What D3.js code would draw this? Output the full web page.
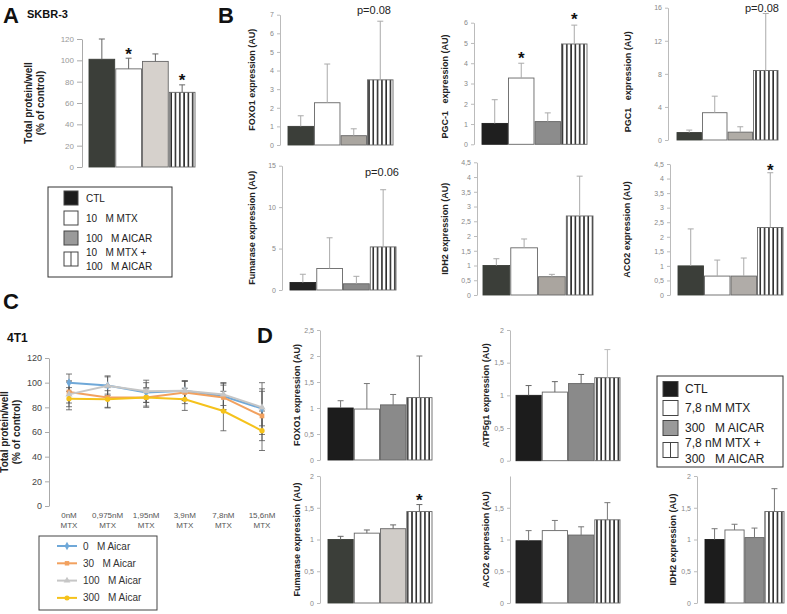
<!DOCTYPE html>
<html><head><meta charset="utf-8">
<script src="https://cdn.jsdelivr.net/npm/d3@7"></script>
<style>body{margin:0;background:#fff} svg{display:block;font-family:"Liberation Sans",Arial,sans-serif} text{white-space:pre}</style>
</head><body><svg id="c" width="787" height="614"></svg>
<script>
// ---------- DATA ----------
const groups = ["CTL", "MTX", "AICAR", "MTX+AICAR"];
const legendA = [["CTL"], ["10   M MTX"], ["100   M AICAR"], ["10   M MTX +", "100   M AICAR"]];
const legendD = [["CTL"], ["7,8 nM MTX"], ["300   M AICAR"], ["7,8 nM MTX +", "300   M AICAR"]];
// A: SKBR-3 total protein
const skbrMean = [101, 92, 99, 70];
const skbrSd = [19, 10, 7, 7];
// B: SKBR-3 expression
const foxo1B = [1.0, 2.27, 0.5, 3.5];
const foxo1BSd = [0.57, 2.08, 0.37, 3.15];
const pgc1aB = [1.03, 3.27, 1.12, 4.95];
const pgc1aBSd = [1.17, 0.73, 0.43, 0.93];
const pgc1bB = [0.9, 3.3, 0.95, 8.4];
const pgc1bBSd = [0.3, 2.0, 0.65, 6.9];
const fumB = [0.9, 2.6, 0.75, 5.2];
const fumBSd = [1.0, 3.7, 0.9, 6.9];
const idh2B = [1.0, 1.6, 0.62, 2.68];
const idh2BSd = [0.23, 0.3, 0.08, 1.35];
const aco2B = [1.0, 0.65, 0.65, 2.32];
const aco2BSd = [1.27, 0.55, 0.62, 1.88];
// C: 4T1 dose response
const doses = ["0nM", "0,975nM", "1,95nM", "3,9nM", "7,8nM", "15,6nM"];
const aicarLabels = ["0   M Aicar", "30   M Aicar", "100   M Aicar", "300   M Aicar"];
const aicar0 = [100, 97.7, 92, 93.5, 89, 79];
const aicar0Sd = [7, 7, 8, 8, 11, 21];
const aicar30 = [92.5, 88, 88, 92, 88, 73];
const aicar30Sd = [9, 8, 7, 9, 10, 20];
const aicar100 = [90.5, 97.5, 93, 93.5, 90.5, 80];
const aicar100Sd = [10, 8, 9, 8, 9, 15];
const aicar300 = [87, 86.5, 88, 86.5, 77, 61];
const aicar300Sd = [9, 7, 8, 9, 16, 16];
// D: 4T1 expression
const foxo1D = [1.0, 0.98, 1.06, 1.2];
const foxo1DSd = [0.14, 0.49, 0.2, 0.8];
const atp5D = [1.0, 1.05, 1.18, 1.27];
const atp5DSd = [0.15, 0.16, 0.14, 0.43];
const fumD = [1.0, 1.1, 1.17, 1.44];
const fumDSd = [0.05, 0.05, 0.06, 0.11];
const aco2D = [0.98, 1.14, 1.07, 1.31];
const aco2DSd = [0.16, 0.16, 0.13, 0.27];
const idh2D = [1.0, 1.15, 1.03, 1.44];
const idh2DSd = [0.17, 0.09, 0.15, 0.36];

// ---------- DRAWING ----------
const svg = d3.select("#c");
const defs = svg.append("defs");
const pat = defs.append("pattern").attr("id", "stripes").attr("patternUnits", "userSpaceOnUse")
  .attr("width", 4.3).attr("height", 10);
pat.append("rect").attr("width", 4.3).attr("height", 10).attr("fill", "#fff");
pat.append("rect").attr("x", 2.8).attr("width", 1.4).attr("height", 10).attr("fill", "#111");

const comma = d => String(d).replace(".", ",");

function barChart(o) {
  const g = svg.append("g");
  const y = d3.scaleLinear().domain([0, o.max]).range([o.y0, o.y1]);
  const x = d3.scaleBand().domain(groups).range([o.b0, o.b1]).paddingInner(o.gap || 0.04);
  const ax = g.append("g").attr("transform", `translate(${o.ax},0)`)
    .call(d3.axisLeft(y).tickValues(o.ticks).tickFormat(o.fmt || comma).tickSize(o.tick || 3).tickSizeOuter(0));
  ax.select(".domain").attr("stroke", o.axisCol || "#bbb");
  ax.selectAll(".tick line").attr("stroke", o.axisCol || "#bbb");
  ax.selectAll(".tick text").attr("fill", o.tickCol || "#888").attr("font-size", o.tickFs || 7)
    .attr("font-family", "Liberation Sans, Arial, sans-serif");
  const fills = [o.c1, "#fff", o.c3, "url(#stripes)"];
  g.selectAll("rect.bar").data(o.means).join("rect").attr("class", "bar")
    .attr("x", (d, i) => x(groups[i])).attr("width", x.bandwidth())
    .attr("y", d => y(d)).attr("height", d => o.y0 - y(d))
    .attr("fill", (d, i) => fills[i]).attr("stroke", (d, i) => i === 0 ? o.c1 : "#666").attr("stroke-width", 0.9);
  const eb = g.selectAll("g.eb").data(o.means).join("g").attr("class", "eb");
  eb.append("line").attr("x1", (d, i) => x(groups[i]) + x.bandwidth() / 2).attr("x2", (d, i) => x(groups[i]) + x.bandwidth() / 2)
    .attr("y1", d => y(d)).attr("y2", (d, i) => y(d + o.sds[i]))
    .attr("stroke", (d, i) => (o.errCols || [])[i] || o.errCol || "#aaa").attr("stroke-width", 1);
  eb.append("line").attr("x1", (d, i) => x(groups[i]) + x.bandwidth() / 2 - 3).attr("x2", (d, i) => x(groups[i]) + x.bandwidth() / 2 + 3)
    .attr("y1", (d, i) => y(d + o.sds[i])).attr("y2", (d, i) => y(d + o.sds[i]))
    .attr("stroke", (d, i) => (o.errCols || [])[i] || o.errCol || "#aaa").attr("stroke-width", 1);
  // y title
  const t = g.append("text").attr("transform", `translate(${o.tx},${(o.y0 + o.y1) / 2 + (o.tdy || 0)}) rotate(-90)`)
    .attr("text-anchor", "middle").attr("font-weight", "bold").attr("font-size", o.tfs || 9).attr("fill", "#222");
  o.title.forEach((s, k) => t.append("tspan").attr("x", 0).attr("dy", k === 0 ? 0 : "1.15em").text(s));
  (o.stars || []).forEach(i => g.append("text").attr("x", x(groups[i]) + x.bandwidth() / 2)
    .attr("y", y(o.means[i] + o.sds[i]) - (o.starGap || 4)).attr("text-anchor", "middle")
    .attr("font-size", 17).attr("font-weight", "bold").attr("fill", "#111").text("*").attr("dy", "0.55em"));
  if (o.p) g.append("text").attr("x", o.p[1]).attr("y", o.p[2]).attr("font-size", 11).attr("fill", "#222").text(o.p[0]);
  return { x, y };
}

function label(txt, x, y, fs) {
  svg.append("text").attr("x", x).attr("y", y).attr("font-size", fs).attr("font-weight", "bold").attr("fill", "#111").text(txt);
}
label("A", 3, 23, 22); label("SKBR-3", 27, 18, 11);
label("B", 218, 23, 22);
label("C", 3, 309, 22); label("4T1", 7, 342, 12);
label("D", 257, 343, 22);

// A
barChart({ ax: 82, y0: 167, y1: 39, max: 120, ticks: [0, 20, 40, 60, 80, 100, 120], fmt: d => d, tick: 5,
  tickFs: 8, tickCol: "#999", axisCol: "#aaa",
  b0: 89, b1: 195, gap: 0.04, means: skbrMean, sds: skbrSd, c1: "#3b3e39", c3: "#d6d1cc", errCol: "#666",
  title: ["Total protein/well", "(% of control)"], tx: 32, tfs: 10, stars: [1, 3], starGap: 8 });

// B row 1
barChart({ ax: 280, y0: 145, y1: 14.7, max: 7, ticks: [0, 1, 2, 3, 4, 5, 6, 7], b0: 288, b1: 393,
  means: foxo1B, sds: foxo1BSd, c1: "#3b3e39", c3: "#aaa6a0", title: ["FOXO1 expression (AU)"], tx: 255,
  p: ["p=0.08", 357, 14] });
barChart({ ax: 474, y0: 144.3, y1: 22.7, max: 6, ticks: [0, 1, 2, 3, 4, 5, 6], b0: 482, b1: 587,
  means: pgc1aB, sds: pgc1aBSd, c1: "#1f1f1f", c3: "#8c8c8c", title: ["PGC-1   expression (AU)"], tx: 448, tdy: 3,
  stars: [1, 3], starGap: 9 });
barChart({ ax: 668, y0: 140, y1: 7.7, max: 16, ticks: [0, 4, 8, 12, 16], b0: 677, b1: 778,
  means: pgc1bB, sds: pgc1bBSd, c1: "#3b3e39", c3: "#b0aca6", title: ["PGC1   expression (AU)"], tx: 631, tdy: 8,
  p: ["p=0.08", 745, 12] });
// B row 2
barChart({ ax: 282, y0: 290, y1: 165.7, max: 15, ticks: [0, 5, 10, 15], b0: 290, b1: 396,
  means: fumB, sds: fumBSd, c1: "#222", c3: "#8a8a8a", title: ["Fumarase expression (AU)"], tx: 255,
  p: ["p=0.06", 365, 176] });
barChart({ ax: 477, y0: 295, y1: 162.3, max: 4.5, ticks: [0, 0.5, 1, 1.5, 2, 2.5, 3, 3.5, 4, 4.5], b0: 483, b1: 593,
  means: idh2B, sds: idh2BSd, c1: "#3b3e39", c3: "#aaa59f", title: ["IDH2 expression (AU)"], tx: 448 });
barChart({ ax: 670, y0: 295, y1: 164, max: 4.5, ticks: [0, 0.5, 1, 1.5, 2, 2.5, 3, 3.5, 4, 4.5], b0: 678, b1: 783,
  means: aco2B, sds: aco2BSd, c1: "#3b3e39", c3: "#b0aca8", title: ["ACO2 expression (AU)"], tx: 630,
  stars: [3], starGap: 6 });

// D
barChart({ ax: 320, y0: 460, y1: 330, max: 2.5, ticks: [0, 0.5, 1, 1.5, 2, 2.5], b0: 328, b1: 432,
  means: foxo1D, sds: foxo1DSd, c1: "#1c1c1c", c3: "#8a8a8a", errCol: "#777", title: ["FOXO1 expression (AU)"], tx: 300 });
barChart({ ax: 510, y0: 460.7, y1: 330, max: 2, ticks: [0, 0.5, 1, 1.5, 2], b0: 516, b1: 620,
  means: atp5D, sds: atp5DSd, c1: "#1c1c1c", c3: "#8a8a8a", errCols: ["#666", "#666", "#666", "#bbb"],
  title: ["ATP5g1 expression (AU)"], tx: 489 });
barChart({ ax: 320, y0: 603, y1: 476, max: 2, ticks: [0, 0.5, 1, 1.5, 2], b0: 328, b1: 432,
  means: fumD, sds: fumDSd, c1: "#3b3e39", c3: "#d0ccc8", errCol: "#666", title: ["Fumarase expression (AU)"], tx: 300,
  stars: [3], starGap: 8 });
barChart({ ax: 510, y0: 603, y1: 476, max: 2, ticks: [0, 0.5, 1, 1.5], b0: 516, b1: 620,
  means: aco2D, sds: aco2DSd, c1: "#222", c3: "#8a8a8a", errCol: "#777", title: ["ACO2 expression (AU)"], tx: 489 });
barChart({ ax: 697, y0: 603, y1: 476, max: 2, ticks: [0, 0.5, 1, 1.5, 2], b0: 705, b1: 784,
  means: idh2D, sds: idh2DSd, c1: "#1c1c1c", c3: "#8a8a8a", errCol: "#777", title: ["IDH2 expression (AU)"], tx: 676 });

// legends for bar charts
function barLegend(rows, bx, by, bw, bh, sx, ss, tx, rowY, fs) {
  const g = svg.append("g");
  g.append("rect").attr("x", bx).attr("y", by).attr("width", bw).attr("height", bh).attr("fill", "#fff").attr("stroke", "#333");
  const fills = ["#1c1c1c", "#fff", "#9a9a9a", "url(#stripes)"];
  rows.forEach((r, i) => {
    const yy = rowY[i];
    g.append("rect").attr("x", sx).attr("y", yy - ss / 2).attr("width", ss).attr("height", ss)
      .attr("fill", i === 3 ? "#fff" : fills[i]).attr("stroke", "#444");
    if (i === 3) g.append("line").attr("x1", sx + ss / 2).attr("x2", sx + ss / 2).attr("y1", yy - ss / 2).attr("y2", yy + ss / 2).attr("stroke", "#444");
    r.forEach((s, k) => g.append("text").attr("x", tx).attr("y", yy + (r.length === 2 ? (k === 0 ? -3 : fs + 1) : fs * 0.36))
      .attr("font-size", fs).attr("fill", "#222").text(s));
  });
}
barLegend(legendA, 48, 187, 124, 90, 64, 14, 86, [198, 218, 238, 259], 10);
barLegend(legendD, 657, 376, 126, 91, 663, 15, 685, [389, 408, 428, 450], 12);

// C line chart
const cy = d3.scaleLinear().domain([0, 120]).range([506, 358]);
const cx = d3.scalePoint().domain(doses).range([69, 262]);
const cax = svg.append("g").attr("transform", "translate(49,0)")
  .call(d3.axisLeft(cy).tickValues([0, 20, 40, 60, 80, 100, 120]).tickSize(4).tickSizeOuter(0));
cax.select(".domain").attr("stroke", "#aaa");
cax.selectAll(".tick line").attr("stroke", "#aaa");
cax.selectAll(".tick text").attr("fill", "#444").attr("font-size", 9).attr("font-family", "Liberation Sans, Arial, sans-serif");
const ct = svg.append("text").attr("transform", "translate(8,432) rotate(-90)").attr("text-anchor", "middle")
  .attr("font-weight", "bold").attr("font-size", 10).attr("fill", "#222");
ct.append("tspan").attr("x", 0).attr("dy", 0).text("Total protein/well");
ct.append("tspan").attr("x", 0).attr("dy", "1.15em").text("(% of control)");
doses.forEach(d => {
  const t = svg.append("text").attr("x", cx(d)).attr("y", 518).attr("text-anchor", "middle").attr("font-size", 8).attr("fill", "#555");
  t.append("tspan").attr("x", cx(d)).text(d);
  t.append("tspan").attr("x", cx(d)).attr("dy", "1.2em").text("MTX");
});
const series = [
  { v: aicar0, sd: aicar0Sd, col: "#6fa8d8", sym: d3.symbolDiamond },
  { v: aicar30, sd: aicar30Sd, col: "#f2a15f", sym: d3.symbolSquare },
  { v: aicar100, sd: aicar100Sd, col: "#c6c6c6", sym: d3.symbolTriangle },
  { v: aicar300, sd: aicar300Sd, col: "#f5c21b", sym: d3.symbolCircle }
];
const eg = svg.append("g");
series.forEach(s => {
  s.v.forEach((v, i) => {
    const xx = cx(doses[i]);
    eg.append("line").attr("x1", xx).attr("x2", xx).attr("y1", cy(v - s.sd[i])).attr("y2", cy(v + s.sd[i])).attr("stroke", "#555").attr("stroke-width", 0.8);
    [v - s.sd[i], v + s.sd[i]].forEach(e => eg.append("line").attr("x1", xx - 3).attr("x2", xx + 3).attr("y1", cy(e)).attr("y2", cy(e)).attr("stroke", "#555").attr("stroke-width", 0.8));
  });
});
const line = d3.line().x((d, i) => cx(doses[i])).y(d => cy(d));
series.forEach(s => {
  svg.append("path").datum(s.v).attr("d", line).attr("fill", "none").attr("stroke", s.col).attr("stroke-width", 2);
  svg.selectAll(null).data(s.v).join("path").attr("transform", (d, i) => `translate(${cx(doses[i])},${cy(d)})`)
    .attr("d", d3.symbol().type(s.sym).size(22)).attr("fill", s.col);
});
// C legend
const cl = svg.append("g");
cl.append("rect").attr("x", 39).attr("y", 536).attr("width", 118).attr("height", 74).attr("fill", "#fff").attr("stroke", "#444");
aicarLabels.forEach((lab, i) => {
  const yy = 546 + i * 17.3;
  cl.append("line").attr("x1", 57).attr("x2", 77).attr("y1", yy).attr("y2", yy).attr("stroke", series[i].col).attr("stroke-width", 2);
  cl.append("path").attr("transform", `translate(67,${yy})`).attr("d", d3.symbol().type(series[i].sym).size(20)).attr("fill", series[i].col);
  cl.append("text").attr("x", 83).attr("y", yy + 3.5).attr("font-size", 10).attr("fill", "#333").text(lab);
});
</script></body></html>
